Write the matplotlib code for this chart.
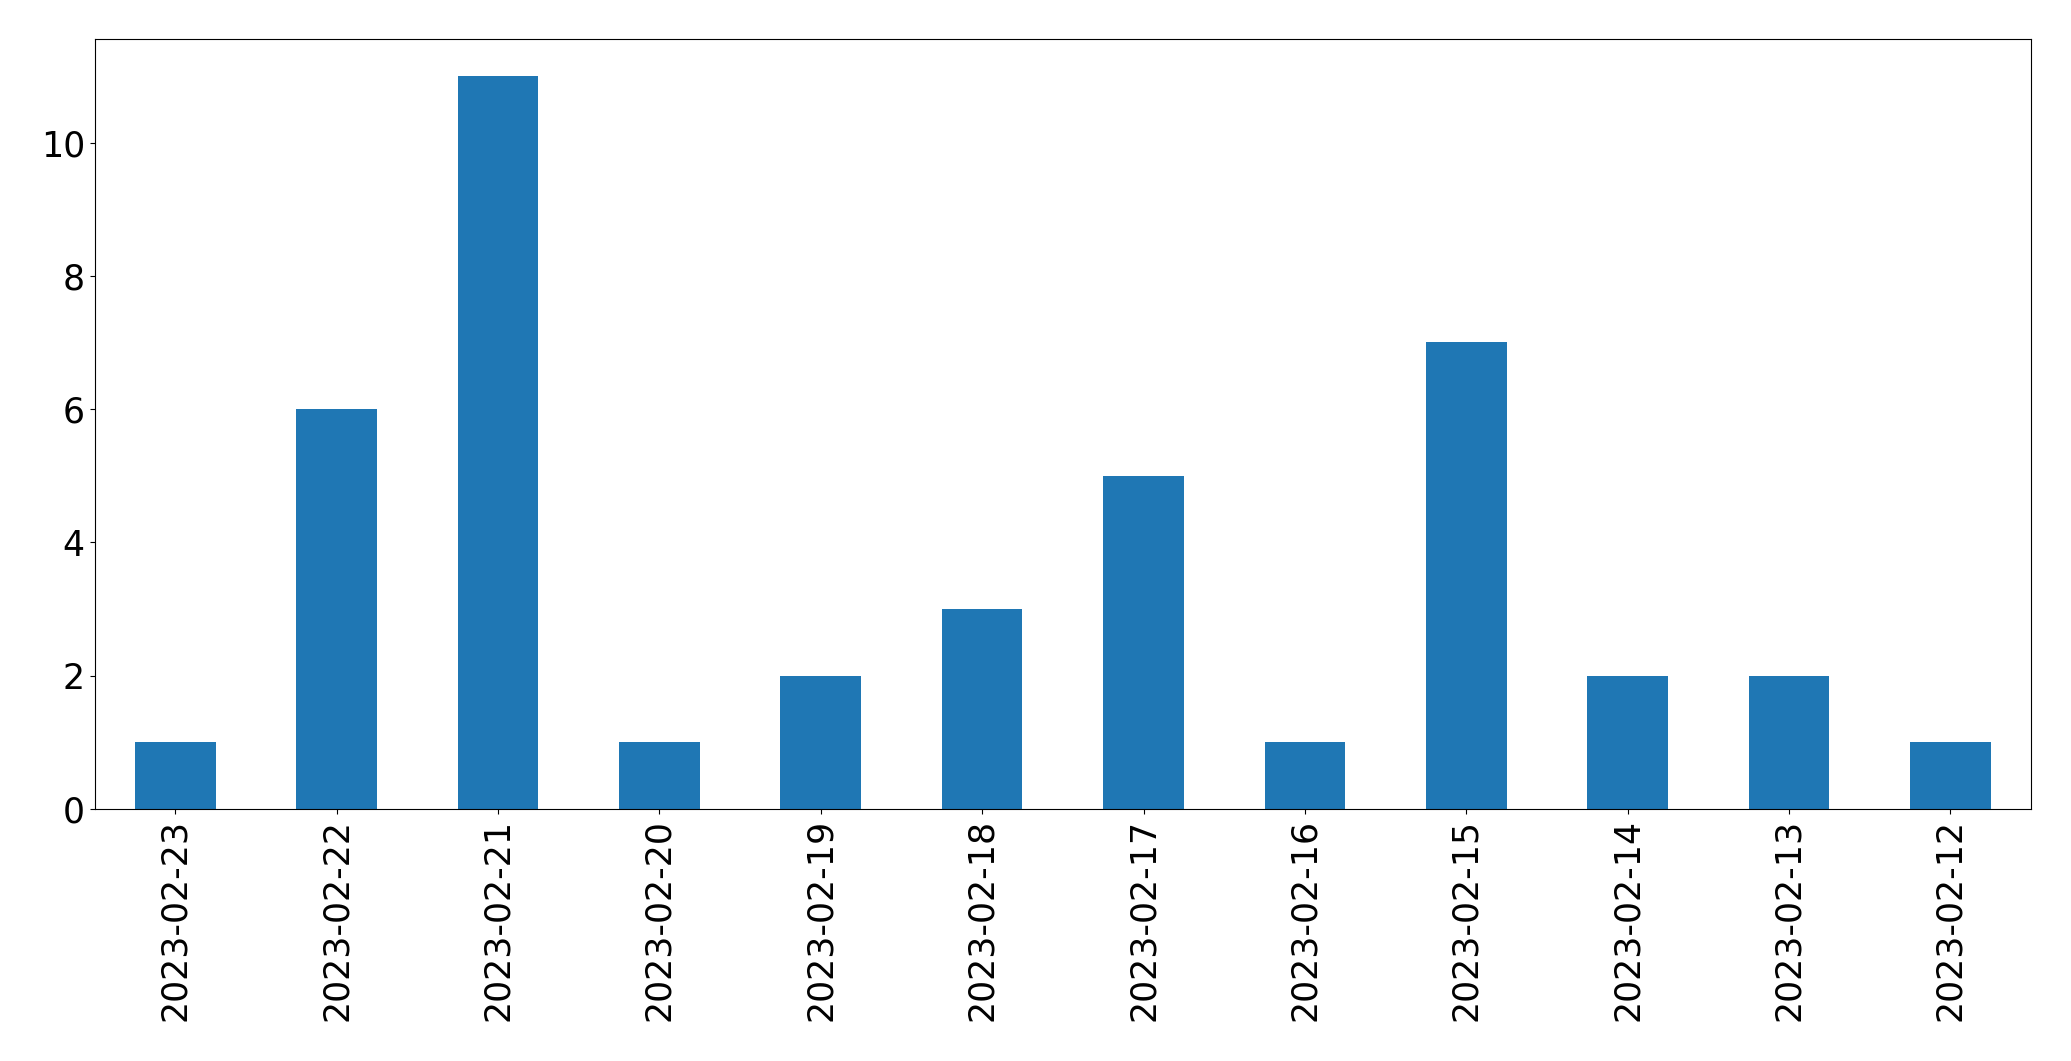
import matplotlib
matplotlib.use("Agg")
import matplotlib.pyplot as plt

dates = ["2023-02-23", "2023-02-22", "2023-02-21", "2023-02-20", "2023-02-19", "2023-02-18",
         "2023-02-17", "2023-02-16", "2023-02-15", "2023-02-14", "2023-02-13", "2023-02-12"]
counts = [1, 6, 11, 1, 2, 3, 5, 1, 7, 2, 2, 1]

fig, ax = plt.subplots(figsize=(20.71, 10.61), dpi=100)
fig.subplots_adjust(left=0.0457, right=0.9807, top=0.963, bottom=0.2375)
x = list(range(len(dates)))
ax.bar(x, counts, width=0.5, color="#1f77b4")
ax.set_xlim(-0.5, len(dates) - 0.5)
ax.set_xticks(x)
ax.set_xticklabels(dates, rotation=90, fontsize=25)
ax.tick_params(axis="y", labelsize=25)
fig.savefig("out.png", dpi=100)
